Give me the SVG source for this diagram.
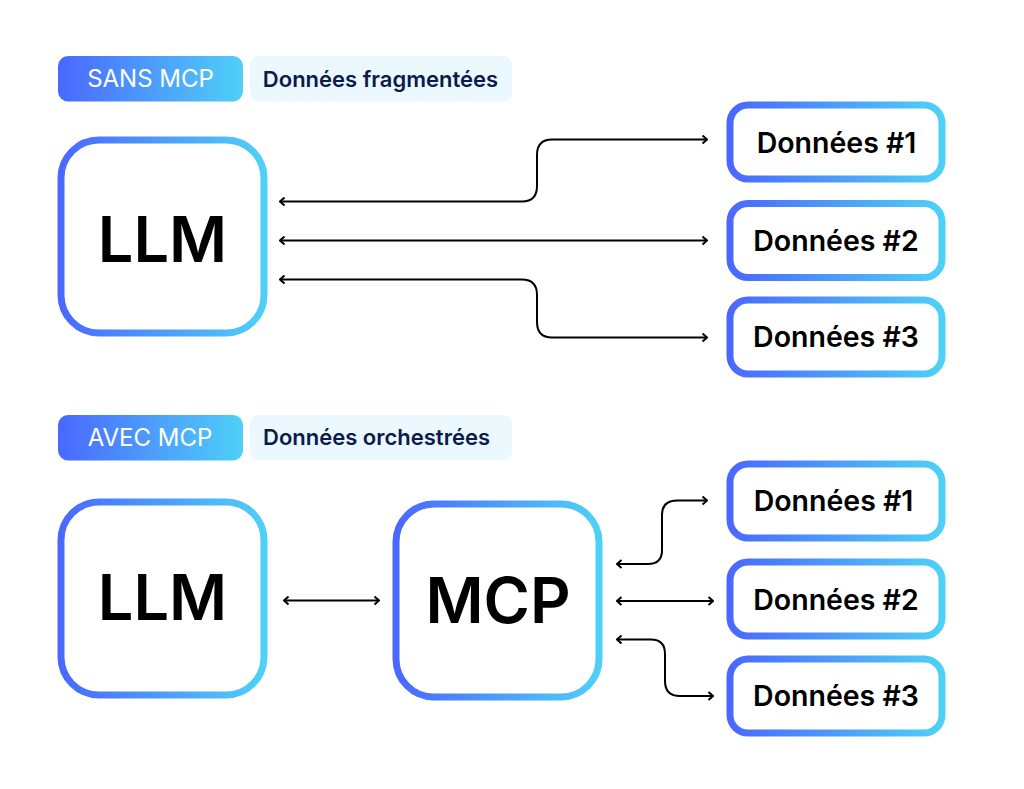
<svg xmlns="http://www.w3.org/2000/svg" width="1024" height="789" viewBox="0 0 1024 789">
<defs>
<linearGradient id="g" x1="0" y1="0" x2="1" y2="0"><stop offset="0" stop-color="#4a68ff"/><stop offset="1" stop-color="#4fd0f7"/></linearGradient>
<marker id="ah" viewBox="0 0 10 10" refX="9" refY="5" markerWidth="10" markerHeight="10" markerUnits="userSpaceOnUse" orient="auto-start-reverse"><path d="M4.5 1 L9 5 L4.5 9" fill="none" stroke="#000" stroke-width="2"/></marker>
</defs>
<style>
text{font-family:Inter,"Liberation Sans",sans-serif;text-anchor:middle}
.box{fill:#fff;stroke:url(#g);stroke-width:7}
.big{font-size:63px;font-weight:600;fill:#000}
.d{font-size:28.500px;font-weight:600;fill:#000}
.pill{fill:url(#g)}
.tag{fill:#ebf8fe}
.pt{font-size:24px;fill:#fff}
.tt{font-size:22px;font-weight:600;fill:#0b1b4d}
#connectors path{fill:none;stroke:#000;stroke-width:2;marker-start:url(#ah);marker-end:url(#ah)}
</style>
<rect width="1024" height="789" fill="#fff"/>
<g id="badge-sans"><rect class="pill" x="58" y="56" width="185" height="45.500" rx="10"/><text class="pt" x="150.500" y="87">SANS MCP</text></g>
<g id="tag-sans"><rect class="tag" x="250" y="56" width="262" height="45.500" rx="9"/><text class="tt" x="380.500" y="86.500">Données fragmentées</text></g>
<g id="llm-1"><rect class="box" x="61" y="140" width="203" height="193" rx="38"/><text class="big" x="162.500" y="262">LLM</text></g>
<g id="d1-1"><rect class="box" x="730" y="105" width="212" height="74" rx="18"/><text class="d" x="836.500" y="152.500">Données #1</text></g>
<g id="d2-1"><rect class="box" x="730" y="203.500" width="212" height="74" rx="18"/><text class="d" x="836" y="251">Données #2</text></g>
<g id="d3-1"><rect class="box" x="730" y="300" width="212" height="74" rx="18"/><text class="d" x="836" y="347">Données #3</text></g>
<g id="badge-avec"><rect class="pill" x="58" y="415" width="185" height="45.500" rx="10"/><text class="pt" x="150" y="446">AVEC MCP</text></g>
<g id="tag-avec"><rect class="tag" x="250" y="415" width="262" height="45.500" rx="9"/><text class="tt" x="376.500" y="444.500">Données orchestrées</text></g>
<g id="llm-2"><rect class="box" x="61" y="502" width="203" height="193" rx="38"/><text class="big" x="162.500" y="620">LLM</text></g>
<g id="mcp"><rect class="box" x="396" y="504" width="203" height="193" rx="38"/><text class="big" x="498" y="623">MCP</text></g>
<g id="d1-2"><rect class="box" x="730" y="464" width="212" height="74" rx="18"/><text class="d" x="833.500" y="511">Données #1</text></g>
<g id="d2-2"><rect class="box" x="730" y="562" width="212" height="74" rx="18"/><text class="d" x="836" y="609.500">Données #2</text></g>
<g id="d3-2"><rect class="box" x="730" y="659" width="212" height="74" rx="18"/><text class="d" x="836" y="706">Données #3</text></g>
<g id="connectors">
<path d="M280 201.500 H522 Q537 201.500 537 186 V155 Q537 139.500 552 139.500 H707"/>
<path d="M280 240.500 H707"/>
<path d="M280 279.500 H522 Q537 279.500 537 295 V322 Q537 337.500 552 337.500 H707"/>
<path d="M284 600.500 H379"/>
<path d="M617 564 H648 Q662 564 662 550 V515 Q662 500.500 677 500.500 H707"/>
<path d="M617 601 H713"/>
<path d="M617 639.500 H651 Q665 639.500 665 654 V681 Q665 696 680 696 H713"/>
</g>
</svg>
